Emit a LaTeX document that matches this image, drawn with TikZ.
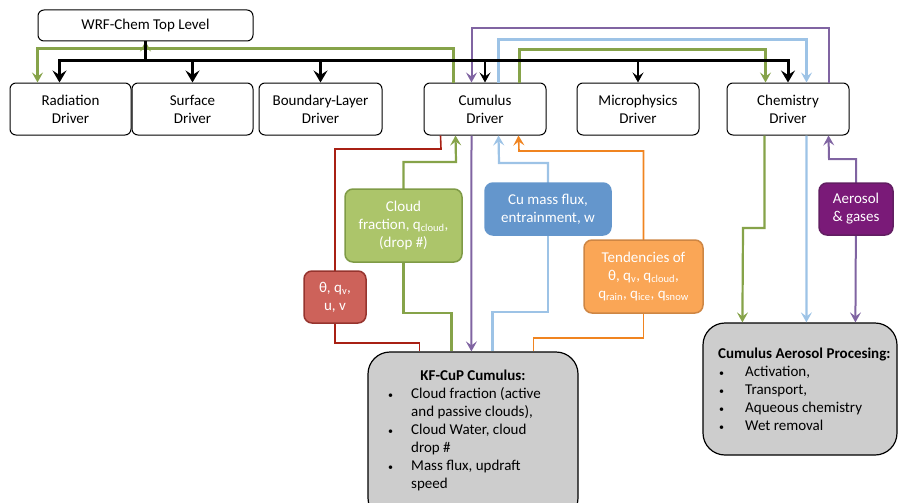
\documentclass[tikz,border=0pt]{standalone}
\usepackage{fontspec}
\setmainfont{Carlito}
\usetikzlibrary{arrows.meta}
\definecolor{grnline}{RGB}{134,163,73}
\definecolor{blueline}{RGB}{157,195,230}
\definecolor{purpline}{RGB}{128,100,162}
\definecolor{redline}{RGB}{168,32,20}
\definecolor{orgline}{RGB}{240,132,32}
\definecolor{grnbox}{RGB}{172,197,106}
\definecolor{grnedge}{RGB}{127,155,70}
\definecolor{bluebox}{RGB}{100,150,204}
\definecolor{redbox}{RGB}{205,98,90}
\definecolor{rededge}{RGB}{150,52,46}
\definecolor{orgbox}{RGB}{250,166,86}
\definecolor{orgedge}{RGB}{206,134,68}
\definecolor{purpbox}{RGB}{122,26,120}
\definecolor{purpedge}{RGB}{98,30,98}
\definecolor{graybox}{RGB}{205,205,205}
\newcommand{\qsub}[1]{q\textsubscript{#1}}
\newcommand{\smallbul}{{\fontsize{10}{10}\selectfont\textbullet}}
\newcommand{\bitem}{\makebox[26pt][l]{\hspace*{3pt}\smallbul}}
\newcommand{\bcont}{\hspace*{26pt}}
\begin{document}
\begin{tikzpicture}[x=1pt,y=-1pt,
      font=\fontsize{15}{18}\selectfont,
      driver/.style={draw,line width=1pt,rounded corners=6pt,minimum width=122pt,minimum height=52pt,align=center,inner sep=0pt},
      infobox/.style={draw,line width=1.5pt,rounded corners=8pt,text=white,align=center,inner sep=0pt},
      bigbox/.style={draw,line width=1.2pt,rounded corners=22pt,fill=graybox,inner sep=0pt},
      arrowtip/.style={-{Stealth[length=10pt,width=11pt,inset=4pt]}},
      busline/.style={line width=3pt},
      bus/.style={line width=3pt,-{Stealth[length=12pt,width=14pt,inset=4.5pt]}},
      thinbus/.style={line width=1.2pt,arrowtip},
      grn/.style={grnline,line width=2.2pt},
      blu/.style={blueline,line width=2.2pt},
      prp/.style={purpline,line width=2pt},
      redl/.style={redline,line width=1.6pt},
      org/.style={orgline,line width=1.6pt}]
      \useasboundingbox (0,0) rectangle (899,503);
      \clip (0,0) rectangle (899,503);
      \draw
        (145.5,25.5) node[driver,minimum width=215pt,minimum height=31pt] (top){WRF-Chem Top Level}
        (70.5,109) node[driver,minimum width=121pt] (rad){Radiation\\Driver}
        (192.5,109) node[driver,minimum width=121pt] (sfc){Surface\\Driver}
        (320.5,109) node[driver,minimum width=123pt] (pbl){Boundary-Layer\\Driver}
        (485,109) node[driver] (cu){Cumulus\\Driver}
        (638,109) node[driver] (mp){Microphysics\\Driver}
        (788,109) node[driver] (chem){Chemistry\\Driver};
      \draw
        (473,436) node[bigbox,minimum width=210pt,minimum height=168pt] (kf){}
        (800,389) node[bigbox,minimum width=194pt,minimum height=132pt] (cuaer){};
      \node (kfhead) at (473,375) {\bfseries KF-CuP Cumulus:};
      \node[anchor=west,align=left,inner sep=0pt] (kflist) at (385,439)
        {\bitem Cloud fraction (active\\ \bcont and passive clouds),\\
         \bitem Cloud Water, cloud\\ \bcont drop \#\\
         \bitem Mass flux, updraft\\ \bcont speed};
      \node[anchor=west,align=left,inner sep=0pt] (cuaerlist) at (718,389.5)
        {\bfseries Cumulus Aerosol Procesing:\\
         \makebox[27pt][l]{\hspace*{1pt}\smallbul}Activation,\\
         \makebox[27pt][l]{\hspace*{1pt}\smallbul}Transport,\\
         \makebox[27pt][l]{\hspace*{1pt}\smallbul}Aqueous chemistry\\
         \makebox[27pt][l]{\hspace*{1pt}\smallbul}Wet removal};
      \coordinate (bk) at (145.5,61);
      \coordinate (gsplit) at (145.5,49);
      \begin{scope}
        \draw[grn,arrowtip] ([xshift=30pt]cu.north west) -- ++(0,-34) -| ([xshift=28pt]rad.north west);
        \draw[grn,arrowtip] (gsplit) -- (top.south);
        \draw[grn,arrowtip] ([xshift=96pt]cu.north west) -- ++(0,-33) -| ([xshift=39pt]chem.north west);
        \draw[blu,arrowtip] ([xshift=75pt]cu.north west) -- ++(0,-43) -| ([xshift=80pt]chem.north west);
        \draw[prp,arrowtip] ([xshift=102pt]chem.north west) -- ++(0,-54) -| ([xshift=48pt]cu.north west);
        \draw[busline] (top.south) -- (bk);
        \draw[bus] (bk) -| ([xshift=-11pt]rad.north);
        \draw[bus] (bk) -| (sfc.north);
        \draw[bus] (bk) -| (pbl.north);
        \draw[bus] (bk) -| (chem.north);
        \draw[thinbus] (cu.north |- bk) -- (cu.north);
        \draw[thinbus] (mp.north |- bk) -- (mp.north);
      \end{scope}
      \begin{scope}
        \draw[prp,arrowtip] ([xshift=48pt]cu.south west) -- ([xshift=104pt]kf.north west);
        \draw[redl] ([xshift=52pt]kf.north west) |- (335,343) -- (335,297);
        \draw[redl] (335,297) |- (441,149) -- ([xshift=17pt]cu.south west);
        \draw[grn] ([xshift=84pt]kf.north west) |- (403.5,313) -- (403.5,225);
        \draw[grn,arrowtip] (403.5,225) |- (456,162) -- ([xshift=32pt]cu.south west);
        \draw[blu] ([xshift=125pt]kf.north west) |- (548,312) -- (548,209);
        \draw[blu,arrowtip] (548,209) |- (499,163) -- ([xshift=75pt]cu.south west);
        \draw[org] ([xshift=166pt]kf.north west) |- (643.5,338) -- (643.5,276);
        \draw[org,arrowtip] (643.5,276) |- (519,151) -- ([xshift=95pt]cu.south west);
        \draw[grn,arrowtip] ([xshift=38pt]chem.south west) |- (743,228) -- ([xshift=40pt]cuaer.north west);
        \draw[blu,arrowtip] ([xshift=80pt]chem.south west) -- ([xshift=104pt]cuaer.north west);
        \draw[prp,arrowtip] (856,209) |- (829,159) -- ([xshift=102pt]chem.south west);
        \draw[prp,arrowtip] (856,209) -- ([xshift=153pt]cuaer.north west);
      \end{scope}
      \draw
        (335,297) node[infobox,fill=redbox,draw=rededge,minimum width=62pt,minimum height=52pt] (th){θ, \qsub{v},\\u, v}
        (403.5,225.5) node[infobox,fill=grnbox,draw=grnedge,minimum width=117pt,minimum height=73pt] (cld){Cloud\\fraction, \qsub{cloud},\\(drop \#)}
        (548,209) node[infobox,fill=bluebox,draw=bluebox,minimum width=126pt,minimum height=52pt] (mf){Cu mass flux,\\entrainment, w}
        (643.5,276.5) node[infobox,fill=orgbox,draw=orgedge,minimum width=119pt,minimum height=73pt] (tend){Tendencies of\\θ, \qsub{v}, \qsub{cloud},\\\qsub{rain}, \qsub{ice}, \qsub{snow}}
        (856,209) node[infobox,fill=purpbox,draw=purpedge,minimum width=74pt,minimum height=52pt] (aer){Aerosol\\\& gases};
    \end{tikzpicture}
\end{document}
